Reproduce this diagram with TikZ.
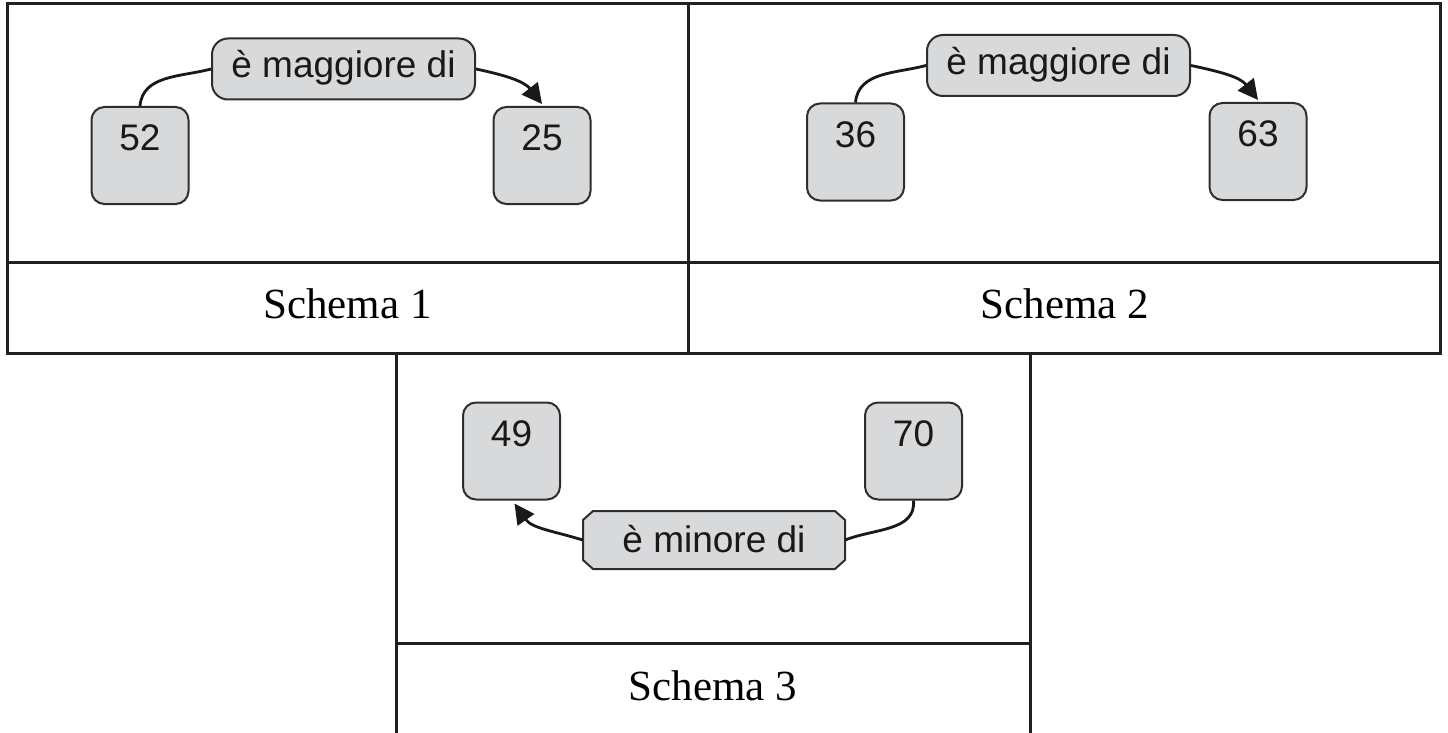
\documentclass[tikz,border=0pt]{standalone}
\usepackage{fontspec}
\setmainfont{Liberation Serif}
\newfontfamily\arialf{Liberation Sans}
\usetikzlibrary{arrows.meta}
\definecolor{boxfill}{HTML}{D8D9DB}
\definecolor{boxline}{HTML}{2E2E2E}
\definecolor{tblline}{HTML}{231F20}
\tikzset{
  tbl/.style={draw=tblline,line width=3pt},
  numbox/.style={draw=boxline,fill=boxfill,line width=2pt,rounded corners=13pt,
    minimum width=97pt,minimum height=97pt,inner sep=0pt,
    font=\arialf\fontsize{37}{40}\selectfont,text=black!90,
    text height=26.5pt,text depth=36.5pt},
  relbox/.style={draw=boxline,fill=boxfill,line width=2pt,rounded corners=16pt,
    minimum width=263pt,minimum height=61pt,inner sep=0pt,
    font=\arialf\fontsize{37}{40}\selectfont,text=black!90,
    text height=30pt,text depth=12pt},
  relchamf/.style={minimum width=262pt,minimum height=58pt,inner sep=0pt,
    font=\arialf\fontsize{37}{40}\selectfont,text=black!90,
    text height=32pt,text depth=8pt},
  chamfline/.style={draw=boxline,fill=boxfill,line width=2pt,line join=round},
  conn/.style={draw=black!90,line width=2.8pt},
  arr/.style={conn,-{Triangle[length=20pt,width=20pt]}},
  caption/.style={font=\fontsize{43}{46}\selectfont,anchor=base,inner sep=0pt}
}
\begin{document}
\begin{tikzpicture}[x=1pt,y=1pt]
\useasboundingbox (0,0) rectangle (1448,-733);
\fill[white] (0,0) rectangle (1448,-733);
% tables
\draw[tbl] (7,-4) rectangle (1440,-353);
\draw[tbl] (688,-4) -- (688,-353);
\draw[tbl] (7,-262) -- (1440,-262);
\draw[tbl] (396,-353) -- (396,-734);
\draw[tbl] (1030,-353) -- (1030,-734);
\draw[tbl] (396,-643) -- (1030,-643);
% captions
\node[caption] (c1) at (347.5,-318) {Schema 1};
\node[caption] (c2) at (1065,-318) {Schema 2};
\node[caption] (c3) at (713,-700) {Schema 3};
% Schema 1
\node[numbox] (n52) at (140,-155.5) {52};
\node[numbox] (n25) at (542,-155.5) {25};
\node[relbox] (r1) at (343.5,-69) {è maggiore di};
\draw[conn] (n52.north) to[out=85,in=195] (r1.west);
\draw[arr] (r1.east) to[out=-12,in=128] ([yshift=2pt]n25.north);
% Schema 2
\node[numbox] (n36) at (855.5,-152) {36};
\node[numbox] (n63) at (1258,-151.5) {63};
\node[relbox] (r2) at (1058.5,-65.5) {è maggiore di};
\draw[conn] (n36.north) to[out=85,in=195] (r2.west);
\draw[arr] (r2.east) to[out=-12,in=128] ([yshift=2pt]n63.north);
% Schema 3
\node[numbox] (n49) at (511.5,-451) {49};
\node[numbox] (n70) at (913.5,-451) {70};
\path[chamfline] (593,-511) -- (835,-511) -- (845,-520) -- (845,-560) -- (835,-569)
  -- (593,-569) -- (583,-560) -- (583,-520) -- cycle;
\node[relchamf] (r3) at (714,-540) {è minore di};
\draw[arr] (r3.west) to[out=163,in=-55] ([xshift=3pt,yshift=-3pt]n49.south);
\draw[conn] (n70.south) to[out=-85,in=22] (r3.east);
\end{tikzpicture}
\end{document}
